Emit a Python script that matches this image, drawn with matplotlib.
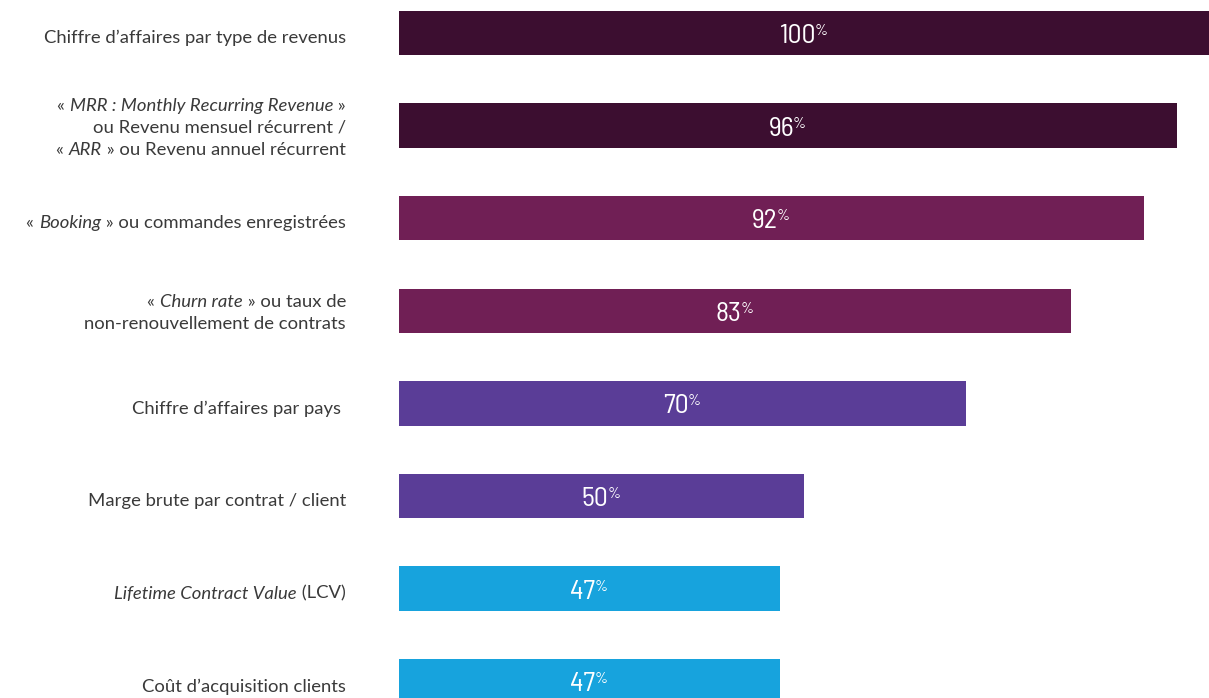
import matplotlib
matplotlib.use("Agg")
import matplotlib.pyplot as plt
from matplotlib import font_manager

# ---- data ----
categories = [
    [[("Chiffre d\u2019affaires par type de revenus", False)]],
    [[("\u00ab ", False), ("MRR : Monthly Recurring Revenue", True), (" \u00bb", False)],
     [("ou Revenu mensuel r\u00e9current /", False)],
     [("\u00ab ", False), ("ARR", True), (" \u00bb ou Revenu annuel r\u00e9current", False)]],
    [[("\u00ab ", False), ("Booking", True), (" \u00bb ou commandes enregistr\u00e9es", False)]],
    [[("\u00ab ", False), ("Churn rate", True), (" \u00bb ou taux de", False)],
     [("non-renouvellement de contrats", False)]],
    [[("Chiffre d\u2019affaires par pays ", False)]],
    [[("Marge brute par contrat / client", False)]],
    [[("Lifetime Contract Value", True), (" (LCV)", False)]],
    [[("Co\u00fbt d\u2019acquisition clients", False)]],
]
values = [100, 96, 92, 83, 70, 50, 47, 47]
colors = ["#3C0E30", "#3C0E30", "#701F55", "#701F55",
          "#5A3D97", "#5A3D97", "#17A3DD", "#17A3DD"]

names = {f.name for f in font_manager.fontManager.ttflist}
label_font = "Lato" if "Lato" in names else "DejaVu Sans"
num_font = "Barlow Semi Condensed" if "Barlow Semi Condensed" in names else "DejaVu Sans"

fig = plt.figure(figsize=(12.09, 6.98), dpi=100)
ax = fig.add_axes([399 / 1209, 0, 1 - 399 / 1209, 1])
ypos = list(range(len(values)))
ax.barh(ypos, values, height=0.48, color=colors)
ax.set_xlim(0, 100)
ax.set_ylim(7.18, -0.356)
ax.axis("off")

fig.canvas.draw()
renderer = fig.canvas.get_renderer()

W, H = 1209, 698
label_x = 346 / W
line_gap = 22  # px
label_size = 13.3
text_color = "#3a3a3a"

for i, lines in enumerate(categories):
    yc_disp = ax.transData.transform((0, i))[1]
    n = len(lines)
    shift = 5 if n == 1 else 2
    for j, segs in enumerate(lines):
        ypx = yc_disp - shift + ((n - 1) / 2 - j) * line_gap
        x_right = label_x * W
        for txt, it in reversed(segs):
            t = fig.text(x_right / W, ypx / H, txt, ha="right", va="center",
                         fontsize=label_size, family=label_font,
                         style="italic" if it else "normal",
                         color=text_color, fontweight="normal")
            bb = t.get_window_extent(renderer)
            x_right = bb.x0

# value labels with superscript %
for i, v in enumerate(values):
    xc = ax.transData.transform((v / 2, i))
    num = fig.text(0, 0, str(v), ha="left", va="center", fontsize=20,
                   family=num_font, color="white")
    pct = fig.text(0, 0, "%", ha="left", va="center", fontsize=11.5,
                   family=num_font, color="white")
    wn = num.get_window_extent(renderer).width
    wp = pct.get_window_extent(renderer).width
    total = wn + wp
    x0 = xc[0] - total / 2
    num.set_position((x0 / W, (xc[1] - 3) / H))
    pct.set_position(((x0 + wn - 1) / W, (xc[1] + 2) / H))

fig.savefig("out.png", dpi=100)
